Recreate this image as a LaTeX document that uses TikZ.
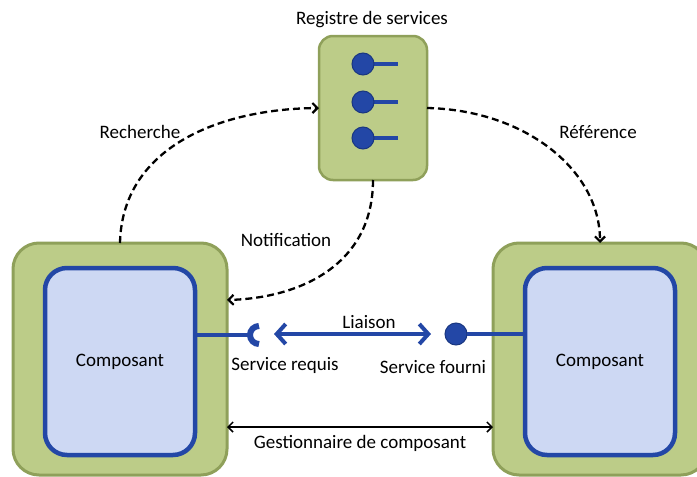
\documentclass[tikz,border=0pt]{standalone}
\usepackage{fontspec}
\setmainfont{Carlito}
\usetikzlibrary{arrows.meta}
\definecolor{gfill}{HTML}{BCCC88}
\definecolor{gline}{HTML}{8FA05A}
\definecolor{bfill}{HTML}{CDD8F3}
\definecolor{bline}{HTML}{2347A6}
\definecolor{bdark}{HTML}{1A3780}
\tikzset{
  outerbox/.style={draw=gline, fill=gfill, line width=3pt, rounded corners=26pt, inner sep=0pt, outer sep=0pt},
  innerbox/.style={draw=bline, fill=bfill, line width=4.5pt, rounded corners=22pt, inner sep=0pt, outer sep=0pt},
  regbox/.style={draw=gline, fill=gfill, line width=2.5pt, rounded corners=14pt, inner sep=0pt, outer sep=0pt},
  port/.style={circle, draw=bdark, fill=bline, line width=1pt, minimum size=22pt, inner sep=0pt, outer sep=0pt},
  sline/.style={draw=bline, line width=4pt},
  dasharrow/.style={black, line width=2.3pt, dash pattern=on 7pt off 4pt, -{Straight Barb[length=5pt,width=10pt,line width=2.2pt]}},
  lbl/.style={font=\fontsize{19}{23}\selectfont, inner sep=0pt},
}
\begin{document}
\begin{tikzpicture}[x=1pt, y=-1pt]
\useasboundingbox (0,0) rectangle (697,477);
\clip (0,0) rectangle (697,477);
% registry
\node[lbl] (regt) at (372,20) {Registre de services};
\node[regbox, minimum width=108pt, minimum height=144pt] (reg) at (373,108) {};
\foreach \i/\y in {1/64, 2/102, 3/138} {
  \coordinate (e\i) at (398,\y);
  \draw[sline, line width=3.5pt] (363,\y) -- (e\i);
  \node[port] (c\i) at (363,\y) {};
}
% components
\node[outerbox, minimum width=214pt, minimum height=232pt] (outL) at (120,359) {};
\node[innerbox, minimum width=150pt, minimum height=187pt] (inL) at (120,361.5) {};
\node[lbl] at (inL) {Composant};
\node[outerbox, minimum width=214pt, minimum height=232pt] (outR) at (600,359) {};
\node[innerbox, minimum width=150pt, minimum height=187pt] (inR) at (600,361.5) {};
\node[lbl] at (inR) {Composant};
% required service
\coordinate (req) at (259,335);
\draw[sline] ([yshift=26.5pt]inL.east) -- (250,335);
\draw[bline, line width=6pt] (259,326) arc[start angle=90, end angle=270, radius=9pt];
% provided service
\node[port] (prov) at (456,334) {};
\draw[sline] (prov.east) -- ([yshift=27.5pt]inR.west);
% liaison
\coordinate (la) at (274,334);
\coordinate (lb) at (431,334);
\draw[bline, line width=4pt, {Straight Barb[length=9pt,width=20pt,line width=4pt]}-{Straight Barb[length=9pt,width=20pt,line width=4pt]}] (la) -- (lb);
\node[lbl] at (369,322) {Liaison};
\node[lbl] at (285,365) {Service requis};
\node[lbl] at (433,367) {Service fourni};
% gestionnaire
\draw[black, line width=1.5pt, {Straight Barb[length=5pt,width=10pt,line width=1.5pt]}-{Straight Barb[length=5pt,width=10pt,line width=1.5pt]}] ([yshift=-68pt]outL.east) -- ([yshift=-68pt]outR.west);
\node[lbl] at (360,443) {Gestionnaire de composant};
% dashed arrows
\draw[dasharrow] (outL.north) .. controls (122,150) and (215,109) .. (reg.west);
\node[lbl] at (140,132) {Recherche};
\draw[dasharrow] (reg.east) .. controls (525,110) and (600,170) .. (outR.north);
\node[lbl] at (598,132) {Référence};
\draw[dasharrow] (reg.south) .. controls (373,265) and (300,298) .. ([yshift=59pt]outL.east);
\node[lbl] at (286,240) {Notification};
\end{tikzpicture}
\end{document}
